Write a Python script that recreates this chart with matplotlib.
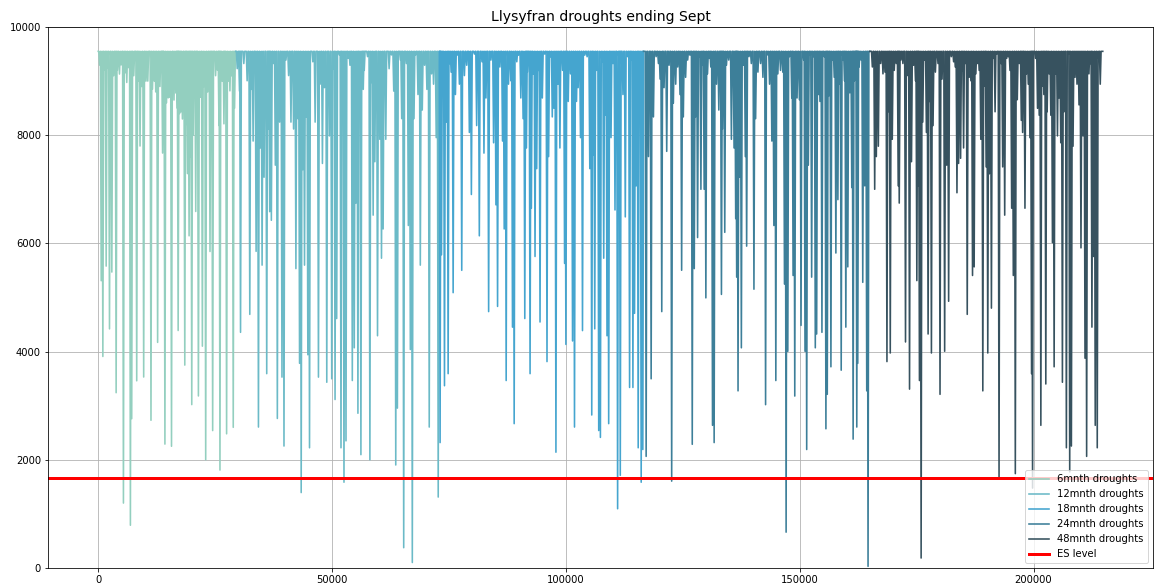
import matplotlib
matplotlib.use("Agg")
import matplotlib.pyplot as plt

# Reservoir storage during drought events, one series per drought duration.
# Each drought is listed by its position on the run index (thousands) and its minimum storage.
FULL_STORAGE = 9550
ES_LEVEL = 1660

labels = ["6mnth droughts", "12mnth droughts", "18mnth droughts",
          "24mnth droughts", "48mnth droughts"]
colors = ["#93cfbf", "#6bbac7", "#45a5cf", "#3d7f99", "#37525f"]
spans_k = [(0.0, 29.4), (29.4, 73.0), (73.0, 116.6), (116.6, 165.0), (165.0, 214.8)]

dips_6_x = [0.3, 0.64, 0.99, 1.3, 1.70, 2.0, 2.41, 2.91, 3.3, 3.83, 4.1, 4.54, 4.9, 5.39, 5.7,
            6.10, 6.5, 6.88, 7.16, 7.6, 8.23, 8.5, 8.94, 9.3, 9.72, 10.21, 10.6, 11.28, 11.6,
            11.99, 12.3, 12.70, 13.2, 13.76, 13.9, 14.26, 14.6, 14.96, 15.3, 15.67, 16.2, 16.60,
            16.9, 17.09, 17.4, 17.66, 18.0, 18.51, 18.8, 19.08, 19.43, 19.7, 20.00, 20.3, 20.85,
            21.1, 21.42, 21.8, 22.27, 22.6, 22.98, 23.4, 23.90, 24.2, 24.47, 25.1, 25.5, 25.82,
            26.03, 26.5, 26.88, 27.1, 27.45, 27.8, 28.16, 28.5, 28.87, 29.15]
dips_6_v = [9300, 5310, 3910, 9200, 5580, 9250, 4420, 5470, 9100, 3240, 9200, 9130, 9300, 1200, 9150,
            8975, 9250, 790, 2760, 9100, 3460, 9000, 7800, 8900, 3530, 9000, 9000, 2730, 8850,
            9000, 8800, 4170, 8900, 7670, 8700, 2290, 8600, 8690, 8700, 2250, 8650, 8780,
            8500, 4390, 8400, 8430, 8300, 3750, 8200, 7290, 6140, 7600, 3020, 8000, 6590,
            8600, 3180, 8700, 4100, 8900, 2000, 8800, 5850, 9000, 2540, 9100, 9200, 8180,
            1810, 9000, 8210, 9100, 2480, 9000, 8820, 9100, 2600, 8500]

dips_12_x = [29.72, 30.21, 30.43, 31.13, 31.84, 32.41, 32.77, 33.12, 33.76, 34.26, 34.68, 35.04,
             35.46, 36.03, 36.45, 36.67, 37.02, 37.52, 37.87, 38.30, 38.79, 39.29, 39.72, 40.14,
             40.71, 41.21, 41.77, 42.27, 42.70, 43.05, 43.40, 43.76, 44.11, 44.47, 44.82, 45.18,
             45.89, 46.38, 47.09, 47.45, 47.94, 48.37, 48.87, 49.43, 49.93, 50.35, 50.64, 50.99,
             51.56, 51.91, 52.20, 52.55, 52.98, 53.48, 53.83, 54.33, 54.75, 55.11, 55.53, 55.82,
             56.17, 56.67, 56.88, 57.59, 58.09, 58.44, 58.79, 59.15, 59.72, 60.21, 60.57, 60.92,
             61.49, 62.20, 62.70, 63.19, 63.62, 63.97, 64.61, 64.89, 65.32, 65.89, 66.31, 66.74,
             67.16, 67.52, 67.87, 68.37, 68.87, 69.29, 69.79, 70.28, 70.78, 71.28, 71.70, 72.27,
             72.70]
dips_12_v = [9230, 8815, 4356, 9325, 9006, 4688, 8847, 7892, 5853, 2605, 7764, 5598,
             7223, 3592, 8115, 6586, 6427, 9325, 7446, 2764, 8242, 3528, 2254, 9389,
             9102, 8242, 8115, 5534, 8306, 3783, 1394, 7363, 5598, 8338, 3942, 2222,
             9357, 8242, 3528, 8943, 7478, 8879, 3433, 7987, 3497, 9229, 3114, 4611,
             9484, 2222, 8943, 1585, 2350, 9420, 9293, 3465, 4070, 6745, 2860, 9325,
             2095, 8847, 9198, 9452, 2000, 8975, 6522, 7510, 4293, 7924, 5726, 6267,
             7924, 9229, 9484, 8815, 1904, 2955, 9389, 8306, 375, 9325, 6331, 4038,
             101, 8306, 9484, 8752, 5598, 8465, 9293, 8847, 2605, 9134, 8943, 7955,
             1311]

dips_18_x = [73.10, 73.40, 73.69, 74.04, 74.40, 74.82, 75.11, 75.46, 75.89, 76.38, 76.74, 77.23,
             77.73, 78.30, 78.79, 79.36, 79.79, 80.43, 80.92, 81.49, 82.06, 82.48, 82.91, 83.48,
             83.97, 84.54, 85.04, 85.39, 85.89, 86.45, 86.81, 87.23, 87.73, 88.23, 88.58, 88.94,
             89.50, 89.86, 90.36, 90.85, 91.21, 91.56, 91.77, 92.34, 92.62, 93.05, 93.40, 93.76,
             94.11, 94.47, 94.96, 95.46, 95.96, 96.31, 96.74, 97.09, 97.45, 97.87, 98.30, 98.72,
             99.29, 99.72, 100.00, 100.50, 100.99, 101.42, 101.84, 102.27, 102.62, 103.12, 103.55,
             104.04, 104.54, 105.11, 105.53, 105.82, 106.17, 106.52, 107.02, 107.38, 107.73,
             108.09, 108.44, 108.79, 109.15, 109.65, 110.07, 110.50, 111.06, 111.42, 111.63,
             112.20, 112.70, 113.19, 113.62, 113.90, 114.33, 114.68, 115.04, 115.46, 115.74,
             116.10, 116.45]
dips_18_v = [2318, 5790, 9389, 3369, 8242, 3592, 9325, 9166, 5089, 8752, 9480, 8943,
             5502, 9102, 9293, 8051, 6904, 9500, 8178, 6140, 9357, 7669, 8688, 4739,
             9389, 7860, 6713, 4835, 9261, 7892, 6267, 3465, 8943, 9006, 4452, 2668,
             9357, 9480, 8688, 8306, 4611, 7764, 9166, 3592, 6650, 9134, 5758, 7382,
             9198, 4547, 8688, 9500, 3815, 7605, 9450, 8338, 8497, 2140, 8943, 7764,
             9198, 5630, 4133, 8624, 9134, 4197, 2605, 8624, 8879, 7955, 4388,
             9480, 9450, 7382, 2828, 7637, 4420, 9198, 2541, 2414, 9357,
             5726, 8369, 4293, 2668, 7955, 9325, 6618, 1095, 9325, 1713,
             8752, 6490, 9452, 3337, 9389, 3337, 4707, 7064, 2222, 8911,
             1585, 2190]

dips_24_x = [117.16, 117.66, 118.23, 118.72, 119.29, 119.79, 120.14, 120.50, 120.99, 121.56,
             122.06, 122.62, 122.98, 123.48, 123.90, 124.40, 124.75, 125.11, 125.60, 126.03,
             126.52, 127.02, 127.45, 127.73, 128.16, 128.51, 128.87, 129.29, 129.57, 129.93,
             130.28, 130.71, 130.99, 131.35, 131.70, 132.20, 132.70, 133.26, 133.48, 133.97,
             134.33, 134.82, 135.39, 135.96, 136.31, 136.52, 136.81, 137.16, 137.52, 137.94,
             138.37, 138.65, 139.15, 139.65, 140.21, 140.57, 141.06, 141.63, 142.13, 142.70,
             143.19, 143.55, 144.04, 144.47, 144.89, 145.32, 145.89, 146.38, 146.74, 147.09,
             147.45, 147.80, 148.30, 148.58, 148.94, 149.43, 149.93, 150.28, 150.85, 151.13,
             151.49, 151.84, 152.27, 152.55, 152.91, 153.33, 153.62, 154.04, 154.33, 154.75,
             155.25, 155.60, 155.89, 156.17, 156.67, 157.02, 157.38, 157.73, 158.16, 158.44,
             158.87, 159.29, 159.57, 159.86, 160.28, 160.71, 161.13, 161.42, 161.70, 161.99,
             162.20, 162.41, 162.70, 163.12, 163.48, 163.90, 164.33, 164.61]
dips_24_v = [2063, 7605, 3497, 8338, 9452, 9325, 9038, 4739, 8879, 7701,
             9293, 1605, 8592, 8943, 9261, 8752, 5503, 8338, 9070, 9389,
             9480, 2286, 5534, 8338, 6108, 9452, 7000, 9293, 7000, 4993,
             9134, 9420, 9261, 2637, 2318, 8943, 8465, 5057, 8115, 6204,
             9293, 9389, 7924, 7764, 6458, 5376, 3274, 7223, 4070, 9293,
             7605, 5949, 9452, 9325, 5153, 8306, 9166, 9325, 9070, 3019,
             9484, 8943, 7892, 6331, 3465, 9134, 9198, 9166, 5248, 662,
             4006, 9452, 8688, 5407, 3178, 8688, 8656, 4484, 9389, 4006,
             2190, 7446, 9484, 5376, 9452, 4070, 4325, 8752, 8624, 4356,
             9452, 2573, 3210, 8720, 3719, 9389, 9070, 5822, 6809, 8943,
             3656, 9389, 9006, 4452, 5566, 8784, 7032, 2382, 9006, 9500,
             2605, 3783, 9261, 9389, 5280, 7064, 3274, 30]

dips_48_x = [165.53, 166.03, 166.38, 166.81, 167.30, 167.80, 168.23, 168.65, 169.08, 169.36,
             169.79, 170.21, 170.64, 171.06, 171.28, 171.63, 172.06, 172.62, 173.12, 173.48,
             173.90, 174.33, 174.75, 175.04, 175.32, 175.60, 175.96, 176.31, 176.67, 177.09,
             177.45, 177.73, 178.16, 178.51, 179.01, 179.57, 180.00, 180.43, 180.99, 181.42,
             181.84, 182.41, 182.91, 183.26, 183.62, 183.97, 184.40, 184.75, 185.04, 185.39,
             185.82, 186.24, 186.60, 186.95, 187.30, 187.66, 188.01, 188.37, 188.72, 189.15,
             189.57, 189.86, 190.21, 190.57, 190.99, 191.42, 191.77, 192.13, 192.62, 193.05,
             193.40, 193.83, 194.26, 194.61, 194.96, 195.32, 195.67, 196.10, 196.52, 196.95,
             197.38, 197.66, 198.16, 198.51, 198.87, 199.22, 199.57, 199.79, 200.43, 200.85,
             201.21, 201.56, 201.91, 202.20, 202.62, 202.91, 203.33, 203.69, 204.04, 204.40,
             204.75, 205.11, 205.46, 205.82, 206.17, 206.52, 207.02, 207.45, 207.73, 208.09,
             208.44, 208.87, 209.29, 209.72, 210.14, 210.57, 211.00, 211.35, 211.84, 212.20,
             212.48, 212.84, 213.19, 213.62, 213.97, 214.26]
dips_48_v = [9261, 7000, 7605, 7796, 9325, 9134, 9166, 3815, 8433, 3974,
             7924, 9198, 9325, 7064, 6745, 9389, 9325, 4178, 9102, 3306,
             7510, 9293, 9006, 5312, 7064, 3465, 184, 8242, 9389, 8051,
             4325, 8624, 3974, 8178, 9166, 9325, 3210, 9038, 4006, 7446,
             4930, 9452, 9357, 9261, 6936, 7478, 7573, 9198, 7764, 9325,
             4688, 9070, 9006, 5407, 5566, 9134, 9325, 9198, 7924, 3274,
             8911, 7414, 3974, 7287, 4803, 9420, 8433, 9500, 1681, 9325,
             7414, 6522, 9420, 9452, 9198, 6650, 5407, 1744, 8656, 9325,
             8274, 8051, 6650, 9134, 8943, 7955, 3592, 1477, 9420, 8497,
             8369, 2637, 8911, 8752, 3401, 8433, 9134, 8369, 6013, 3719,
             9134, 7987, 8688, 7860, 3433, 8433, 2222, 9500, 1776, 2254,
             7796, 9070, 8943, 8561, 5917, 7987, 3878, 2063, 9134, 9325,
             4452, 5758, 2637, 2222, 9389, 8943]

all_dips = [(dips_6_x, dips_6_v), (dips_12_x, dips_12_v), (dips_18_x, dips_18_v),
            (dips_24_x, dips_24_v), (dips_48_x, dips_48_v)]


def drought_trace(span, dip_x, dip_v, half_width=180.0):
    """Storage trace sitting at full storage, dropping to each drought minimum."""
    start, end = span[0] * 1000, span[1] * 1000
    xs, ys = [start], [FULL_STORAGE]
    for xk, v in sorted(zip(dip_x, dip_v)):
        x = xk * 1000
        xs += [x - half_width, x, x + half_width]
        ys += [FULL_STORAGE, v, FULL_STORAGE]
    xs.append(end)
    ys.append(FULL_STORAGE)
    return xs, ys


W, H = 1155, 588
fig = plt.figure(figsize=(W / 72, H / 72), dpi=72)
ax = fig.add_axes([48 / W, (H - 568) / H, (1153 - 48) / W, (568 - 27) / H])

for label, color, span, (dx, dv) in zip(labels, colors, spans_k, all_dips):
    xs, ys = drought_trace(span, dx, dv)
    ax.plot(xs, ys, color=color, lw=1.6, label=label)

ax.axhline(ES_LEVEL, color="red", lw=3, label="ES level")

ax.set_ylim(0, 10000)
ax.set_xlim(-10740, 225540)
ax.grid(True, color="#b0b0b0", lw=0.8)
ax.set_axisbelow(True)
ax.set_title("Llysyfran droughts ending Sept", fontsize=14)
ax.tick_params(labelsize=10)
ax.legend(loc="lower right", fontsize=10)

fig.savefig("out.png", dpi=72)
